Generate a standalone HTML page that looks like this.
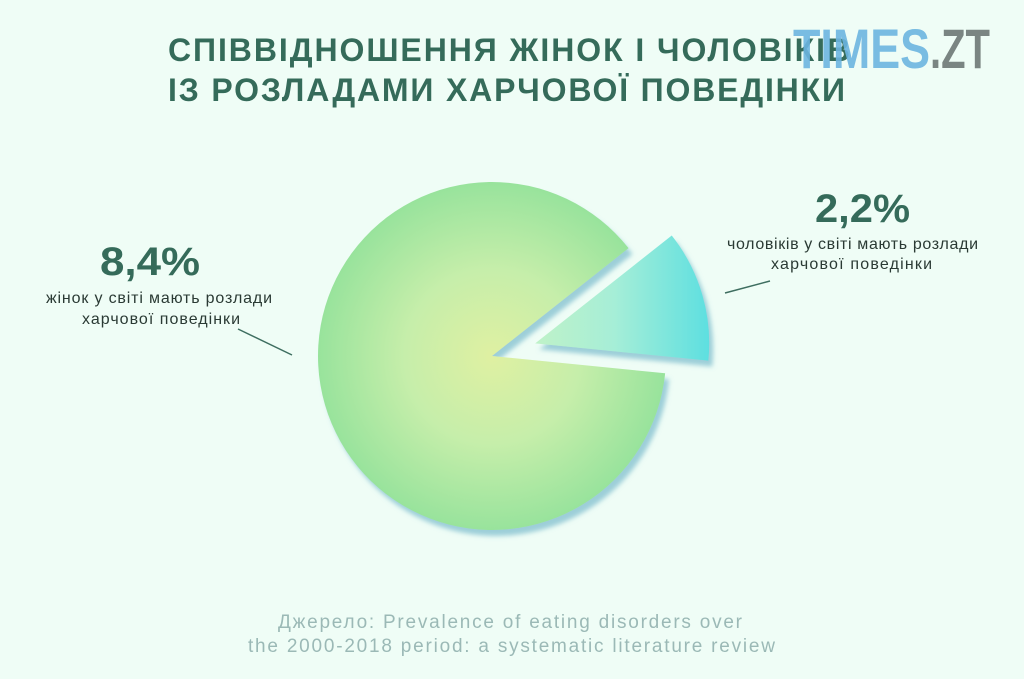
<!DOCTYPE html>
<html><head><meta charset="utf-8"><style>
body{margin:0;width:1024px;height:679px;background:#effdf6;overflow:hidden;font-family:"Liberation Sans",sans-serif;}
svg{display:block}
</style></head><body>
<svg width="1024" height="679" viewBox="0 0 1024 679">
<defs>
<radialGradient id="gMain" cx="492" cy="356" r="174" gradientUnits="userSpaceOnUse">
<stop offset="0" stop-color="#dff0a2"/><stop offset="0.5" stop-color="#c6eeaa"/><stop offset="1" stop-color="#98e39c"/>
</radialGradient>
<linearGradient id="gSmall" x1="535" y1="0" x2="710" y2="0" gradientUnits="userSpaceOnUse">
<stop offset="0" stop-color="#bff2c8"/><stop offset="0.45" stop-color="#a6eed7"/><stop offset="1" stop-color="#5ddfe0"/>
</linearGradient>
<filter id="sh" x="-20%" y="-20%" width="140%" height="140%">
<feDropShadow dx="4" dy="6" stdDeviation="2.5" flood-color="#5aa9c0" flood-opacity="0.55"/>
</filter>
</defs>
<g id="pie"></g>
<text x="168" y="61" font-size="32" font-weight="bold" fill="#356b5a" textLength="682" lengthAdjust="spacing">СПІВВІДНОШЕННЯ ЖІНОК І ЧОЛОВІКІВ</text>
<text x="168" y="101" font-size="32" font-weight="bold" fill="#356b5a" textLength="677" lengthAdjust="spacing">ІЗ РОЗЛАДАМИ ХАРЧОВОЇ ПОВЕДІНКИ</text>
<g font-family="'Liberation Sans Narrow','Liberation Sans',sans-serif" font-weight="bold" font-size="56">
<text x="793" y="68" fill="#6cb5e0" fill-opacity="0.9" textLength="137" lengthAdjust="spacingAndGlyphs">TIMES</text>
<text x="930" y="68" fill="#7a8582" textLength="60" lengthAdjust="spacingAndGlyphs">.ZT</text>
</g>
<g fill="#356b5a">
<text x="100" y="275" font-size="40" font-weight="bold" textLength="100" lengthAdjust="spacingAndGlyphs">8,4%</text>
<text x="46" y="303" font-size="16" fill="#2a3a34" textLength="226">жінок у світі мають розлади</text>
<text x="82" y="324" font-size="16" fill="#2a3a34" textLength="158">харчової поведінки</text>
</g>
<line x1="238" y1="329" x2="292" y2="355" stroke="#3e6e60" stroke-width="1.5"/>
<g fill="#356b5a">
<text x="815" y="222" font-size="40" font-weight="bold" textLength="95" lengthAdjust="spacingAndGlyphs">2,2%</text>
<text x="727" y="249" font-size="16" fill="#2a3a34" textLength="251">чоловіків у світі мають розлади</text>
<text x="771" y="269" font-size="16" fill="#2a3a34" textLength="161">харчової поведінки</text>
</g>
<line x1="725" y1="293" x2="770" y2="281" stroke="#3e6e60" stroke-width="1.5"/>
<g font-size="19" fill="#9bb9b6">
<text x="278" y="628" textLength="464">Джерело: Prevalence of eating disorders over</text>
<text x="248" y="652" textLength="527">the 2000-2018 period: a systematic literature review</text>
</g>
</svg>
<script>
const categories = ["women", "men"];
const values = [8.4, 2.2];
const degPerPercent = 20; // visual sweep scale of the small slice
const cx = 492, cy = 356, R = 174, explode = 45;
const endAngle = 5.7;
const smallSweep = values[1] * degPerPercent;
const startAngle = endAngle - smallSweep;
function pt(a, r, ox, oy){const t=a*Math.PI/180;return [ox+r*Math.cos(t), oy+r*Math.sin(t)];}
const g = document.getElementById('pie');
const ns = "http://www.w3.org/2000/svg";
let p1 = pt(endAngle, R, cx, cy), p2 = pt(startAngle + 360, R, cx, cy);
const main = document.createElementNS(ns,'path');
main.setAttribute('d',`M${cx},${cy} L${p1[0]},${p1[1]} A${R},${R} 0 1 1 ${p2[0]},${p2[1]} Z`);
main.setAttribute('fill','url(#gMain)');
main.setAttribute('filter','url(#sh)');


g.appendChild(main);
const mid = (startAngle + endAngle) / 2 * Math.PI / 180;
const ox = cx + explode * Math.cos(mid), oy = cy + explode * Math.sin(mid);
let q1 = pt(startAngle, R, ox, oy), q2 = pt(endAngle, R, ox, oy);
const small = document.createElementNS(ns,'path');
small.setAttribute('d',`M${ox},${oy} L${q1[0]},${q1[1]} A${R},${R} 0 0 1 ${q2[0]},${q2[1]} Z`);
small.setAttribute('fill','url(#gSmall)');
small.setAttribute('filter','url(#sh)');


g.appendChild(small);
</script>
</body></html>
